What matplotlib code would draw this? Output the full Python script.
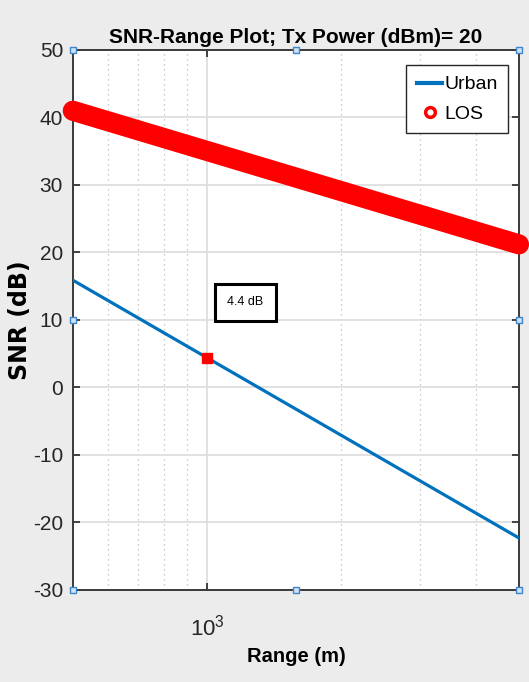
import matplotlib
matplotlib.use('Agg')
import matplotlib.pyplot as plt
from matplotlib.lines import Line2D
from matplotlib.ticker import FixedLocator, FixedFormatter, NullFormatter

# data
range_m = [500, 1000, 5000]
urban_snr = [15.9, 4.4, -22.3]
los_range = [500, 5000]
los_snr = [41.0, 21.2]
tip_x, tip_y = 1000, 4.4
tip_label = '4.4 dB'
y_ticks = [-30, -20, -10, 0, 10, 20, 30, 40, 50]

narrow = ['Liberation Sans Narrow', 'Liberation Sans', 'DejaVu Sans']
plt.rcParams['font.family'] = narrow
plt.rcParams['axes.unicode_minus'] = False

fig = plt.figure(figsize=(5.29, 6.82), dpi=100, facecolor='#ececec')
ax = fig.add_axes([0.1376, 0.1349, 0.8435, 0.7918])
ax.set_facecolor('white')

ax.plot(range_m, urban_snr, color='#0072BD', lw=2.3, zorder=3)
ax.plot(los_range, los_snr, color='red', lw=14.5, solid_capstyle='round',
        clip_on=False, zorder=4)
ax.plot([tip_x], [tip_y], marker='s', ms=6.5, color='red', mec='red', zorder=5)
ax.text(1218, 12.6, tip_label, fontsize=9, ha='center', va='center',
        family=narrow, zorder=6,
        bbox=dict(boxstyle='square,pad=1.0', fc='white', ec='black', lw=2.2))

ax.set_xscale('log')
ax.set_xlim(500, 5000)
ax.set_ylim(-30, 50)
ax.set_yticks(y_ticks)
ax.xaxis.set_major_locator(FixedLocator([1000]))
ax.xaxis.set_major_formatter(FixedFormatter([r'$\mathregular{10^3}$']))
ax.xaxis.set_minor_locator(FixedLocator([600, 700, 800, 900, 2000, 3000, 4000]))
ax.xaxis.set_minor_formatter(NullFormatter())

ax.grid(True, which='major', color='#dcdcdc', lw=1.2, ls='-', zorder=0)
ax.grid(True, which='minor', axis='x', color='#bdbdbd', lw=0.9, ls=(0, (1, 3)), zorder=0)
ax.set_axisbelow(True)

ax.tick_params(which='both', direction='in', top=True, right=True,
               labelsize=15, colors='#262626', width=1.2)
ax.tick_params(which='major', length=5)
ax.tick_params(which='minor', length=0)
ax.tick_params(axis='x', pad=18, labelsize=16)
ax.tick_params(axis='y', pad=7)
for s in ax.spines.values():
    s.set_color('#3a3a3a')
    s.set_linewidth(1.4)

ax.set_title('SNR-Range Plot; Tx Power (dBm)= 20', fontsize=15, fontweight='bold',
             pad=5)
ax.set_xlabel('Range (m)', fontsize=14.5, fontweight='bold')
ax.xaxis.set_label_coords(0.5, -0.105)
ax.set_ylabel('SNR (dB)', fontsize=17, fontweight='bold', family='DejaVu Sans')
ax.yaxis.set_label_coords(-0.092, 0.5)

handles = [Line2D([], [], color='#0072BD', lw=3),
           Line2D([], [], color='red', marker='o', ls='none', mfc='white',
                  mec='red', mew=2.5, ms=7)]
leg = ax.legend(handles, ['Urban', 'LOS'], loc='upper right',
                bbox_to_anchor=(0.976, 0.972), borderaxespad=0, fontsize=14,
                fancybox=False, edgecolor='#262626', framealpha=1,
                handlelength=1.3, handletextpad=0.1, borderpad=0.55,
                labelspacing=0.6)
leg.get_frame().set_linewidth(1.0)

# edit-mode handles on the axes box
hx = [0, 0.5, 1, 0, 1, 0, 0.5, 1]
hy = [1, 1, 1, 0.5, 0.5, 0, 0, 0]
ax.plot(hx, hy, 's', ms=4.5, mfc='#cfe3f7', mec='#3f84c9', mew=1,
        transform=ax.transAxes, clip_on=False, zorder=10)

fig.savefig('out.png', dpi=100, facecolor=fig.get_facecolor())
